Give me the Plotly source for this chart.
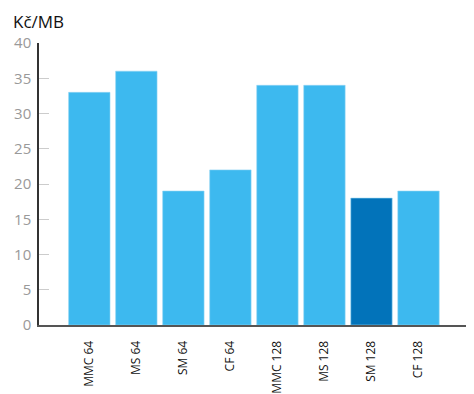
import plotly.graph_objects as go

categories = ["MMC 64", "MS 64", "SM 64", "CF 64", "MMC 128", "MS 128", "SM 128", "CF 128"]
values = [33, 36, 19, 22, 34, 34, 18, 19]
highlight = "SM 128"

light = "#3DB9EF"
dark = "#0273BA"
colors = [dark if c == highlight else light for c in categories]

fig = go.Figure(go.Bar(
    x=categories, y=values,
    marker=dict(color=colors, line=dict(color="#8fd3f3", width=0.6)),
    width=0.88,
))

# page body has an 8px default margin; figure sized to fill the remaining window
W, H = 466, 386
L, R, T, B = 31, 0, 35, 69
pw, ph = W - L - R, H - T - B

fig.update_layout(
    width=W, height=H,
    margin=dict(l=L, r=R, t=T, b=B),
    paper_bgcolor="white", plot_bgcolor="white",
    showlegend=False,
    font=dict(family="Open Sans, DejaVu Sans, sans-serif"),
    bargap=0.12,
)
fig.add_annotation(
    text="Kč/MB", xref="paper", yref="paper",
    x=(3 - L) / pw, y=1 + (T - 0.5) / ph, xanchor="left", yanchor="top",
    showarrow=False, font=dict(size=17, color="#111"),
)
fig.update_xaxes(
    range=[-1.07, 8.18], automargin=False,
    showline=True, linecolor="#555", linewidth=2,
    tickangle=-90, tickfont=dict(size=12, color="#111"),
    ticks="", showgrid=False, ticklabelstandoff=9,
)
fig.update_yaxes(
    range=[0, 40], dtick=5, automargin=False,
    showline=True, linecolor="#333", linewidth=1.5,
    ticks="inside", ticklen=10, tickcolor="#ccc", tickwidth=1,
    tickfont=dict(size=15, color="#999"),
    showgrid=False, zeroline=False, ticklabelstandoff=3,
)

fig.write_html("out.html")
